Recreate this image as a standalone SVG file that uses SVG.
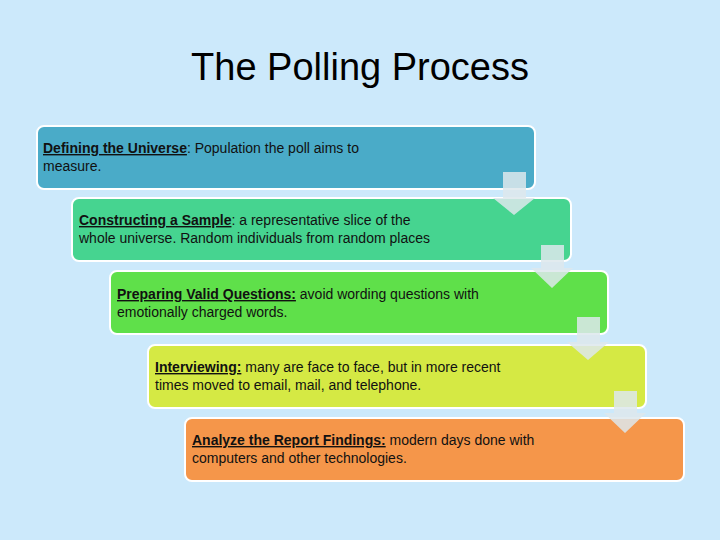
<svg xmlns="http://www.w3.org/2000/svg" width="720" height="540" viewBox="0 0 720 540">
<style>
.box{stroke:#fff;stroke-width:2}
.t{font-family:"Liberation Sans",Arial,sans-serif;font-size:14px;fill:#111}
.b{font-weight:bold;text-decoration:underline}
.arr{fill:#dde8ec;fill-opacity:0.85}
</style>
<rect width="720" height="540" fill="#cce9fb"/>
<text x="360" y="80" text-anchor="middle" font-family="'Liberation Sans',Arial,sans-serif" font-size="38" fill="#000">The Polling Process</text>
<g id="n1"><rect class="box" x="37" y="126" width="498" height="63" rx="7" fill="#4aabc8"/>
<text class="t" x="43" y="153"><tspan class="b">Defining the Universe</tspan>: Population the poll aims to</text><text class="t" x="43" y="171">measure.</text></g>
<g id="n2"><rect class="box" x="72" y="198" width="499" height="63" rx="7" fill="#46d490"/>
<text class="t" x="79" y="225"><tspan class="b">Constructing a Sample</tspan>:  a representative slice of the</text><text class="t" x="79" y="243">whole universe. Random individuals from random places</text></g>
<g id="n3"><rect class="box" x="110" y="271" width="498" height="63" rx="7" fill="#5fe04a"/>
<text class="t" x="117" y="299"><tspan class="b">Preparing Valid Questions:</tspan> avoid wording questions with</text><text class="t" x="117" y="317">emotionally charged words.</text></g>
<g id="n4"><rect class="box" x="148" y="345" width="498" height="63" rx="7" fill="#d5e944"/>
<text class="t" x="155" y="372"><tspan class="b">Interviewing:</tspan> many are face to face, but in more recent</text><text class="t" x="155" y="390">times moved to email, mail, and telephone.</text></g>
<g id="n5"><rect class="box" x="185" y="418" width="499" height="63" rx="7" fill="#f5964a"/>
<text class="t" x="192" y="445"><tspan class="b">Analyze the Report Findings:</tspan> modern days done with</text><text class="t" x="192" y="463">computers and other technologies.</text></g>
<g id="connectors">
<path class="arr" d="M503 172H526V198H535L514 215L493 198H503Z"/>
<path class="arr" d="M541 245H564V268H573L552 288L531 268H541Z"/>
<path class="arr" d="M577 317H600V342H609L588 360L567 342H577Z"/>
<path class="arr" d="M614 391H637V413H646L625 433L604 413H614Z" fill="#f8e2d4"/>
</g>
</svg>
